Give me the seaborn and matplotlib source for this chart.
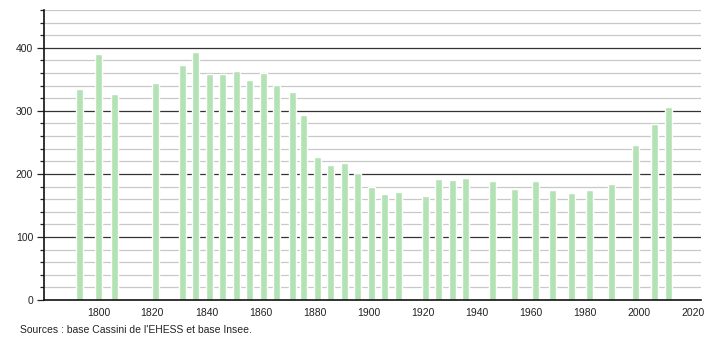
import matplotlib
matplotlib.use("Agg")
import matplotlib.pyplot as plt
import seaborn as sns
import pandas as pd
from matplotlib.ticker import MultipleLocator

years = [1793, 1800, 1806, 1821, 1831, 1836, 1841, 1846, 1851, 1856, 1861, 1866,
         1872, 1876, 1881, 1886, 1891, 1896, 1901, 1906, 1911, 1921, 1926, 1931,
         1936, 1946, 1954, 1962, 1968, 1975, 1982, 1990, 1999, 2006, 2011]
population = [335, 390, 327, 344, 373, 394, 358, 358, 363, 349, 360, 341,
              330, 294, 227, 214, 218, 201, 179, 168, 171, 165, 192, 190,
              193, 189, 176, 189, 175, 170, 175, 184, 246, 279, 306]
x_ticks = [1800, 1820, 1840, 1860, 1880, 1900, 1920, 1940, 1960, 1980, 2000, 2020]
y_ticks = [0, 100, 200, 300, 400]
source_text = "Sources : base Cassini de l'EHESS et base Insee."

df = pd.DataFrame({"year": years, "population": population})

sns.set_style("white")
plt.rcParams["font.family"] = ["Liberation Sans", "DejaVu Sans"]

fig = plt.figure(figsize=(7.1, 3.4), dpi=100)
ax = fig.add_axes([0.0624, 0.1176, 0.9245, 0.853])

# grid lines
for v in range(20, 461, 20):
    if v % 100 == 0:
        ax.axhline(v, color="#333333", lw=0.9, zorder=1)
    else:
        ax.axhline(v, color="#c8c8c8", lw=0.9, zorder=1)

ax.bar(df["year"], df["population"], width=2.6, color="#b3e3b5", zorder=2)

ax.set_xlim(1780, 2023)
ax.set_ylim(0, 460)
ax.set_xticks(x_ticks)
ax.set_yticks(y_ticks)
ax.yaxis.set_minor_locator(MultipleLocator(20))
ax.tick_params(axis="x", bottom=False, length=0, labelsize=7.5, pad=6, colors="#222222")
ax.tick_params(axis="y", which="major", left=True, direction="out", length=5, width=0.9,
               labelsize=7.5, pad=3, colors="#222222")
ax.tick_params(axis="y", which="minor", left=True, direction="out", length=3, width=0.9, color="#222222")
ax.set_xlabel("")
ax.set_ylabel("")
for s in ["top", "right"]:
    ax.spines[s].set_visible(False)
for s in ["left", "bottom"]:
    ax.spines[s].set_color("#111111")
    ax.spines[s].set_linewidth(1.2)

fig.text(20 / 710, 1 - 330 / 340, source_text, fontsize=7.5, va="center", ha="left", color="#222222")

fig.savefig("out.png", dpi=100)
